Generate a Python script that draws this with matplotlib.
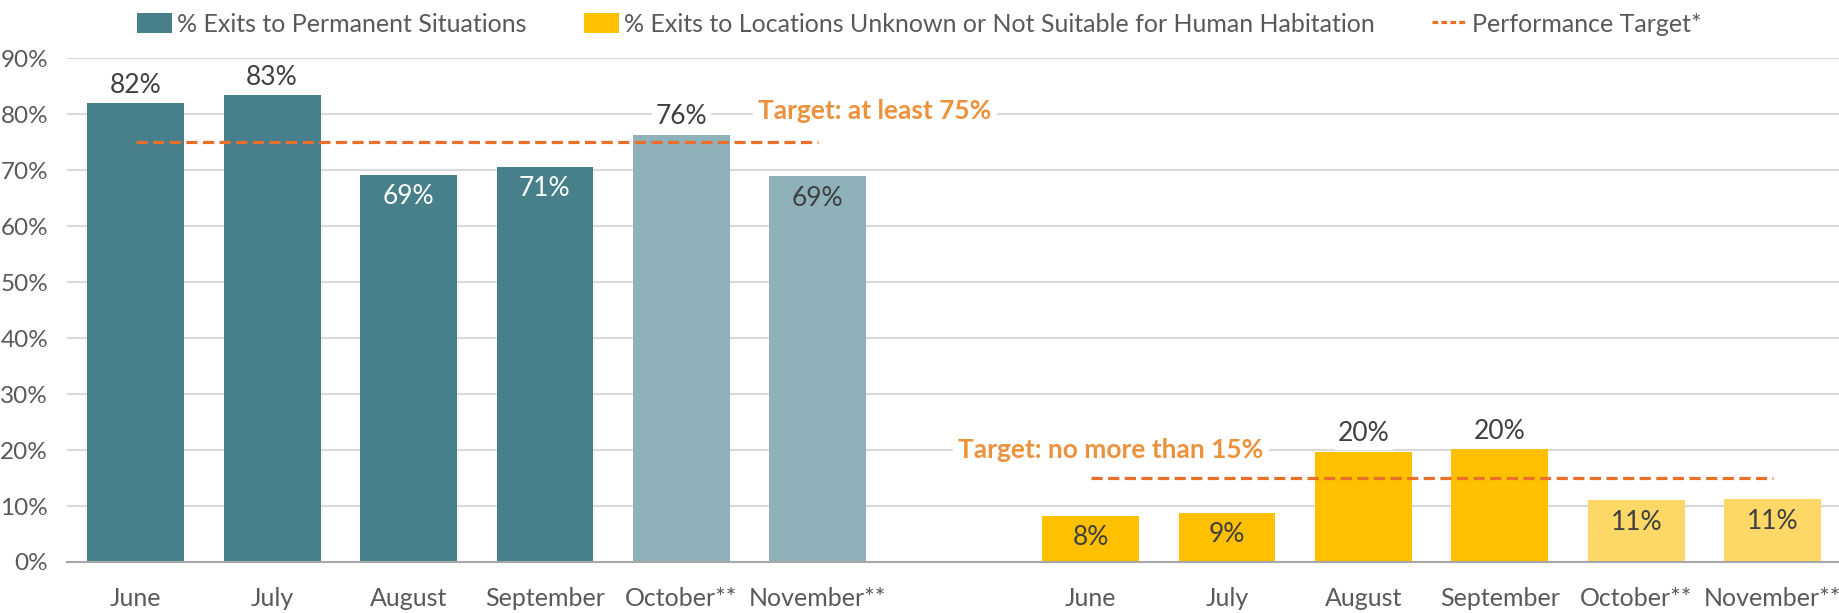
"""
Exits to permanent situations vs. exits to unknown locations - monthly bar chart
"""

import matplotlib
matplotlib.use('Agg')
import matplotlib.pyplot as plt
from matplotlib.patches import Patch
from matplotlib.lines import Line2D
import numpy as np

# ---- data -------------------------------------------------------------
months = ['June', 'July', 'August', 'September', 'October**', 'November**']
permanent_pct = [81.9, 83.4, 69.2, 70.6, 76.3, 68.9]
unknown_pct = [8.3, 8.8, 19.7, 20.1, 11.0, 11.2]
permanent_target = 75
unknown_target = 15
preliminary = [False, False, False, False, True, True]

# label placement: 'out' above the bar, 'in' inside near the top
permanent_label_pos = ['out', 'out', 'in', 'in', 'out', 'in']
unknown_label_pos = ['in', 'in', 'out', 'out', 'in', 'in']

# ---- style ------------------------------------------------------------
plt.rcParams['font.family'] = ['Lato', 'DejaVu Sans']
TEAL = '#477F8B'
TEAL_LIGHT = '#8FB2BA'
GOLD = '#FFC000'
GOLD_LIGHT = '#FDD866'
TARGET_LINE = '#E8702A'
TARGET_TEXT = '#EC913C'
GRID = '#D9D9D9'
TICK_TEXT = '#595959'
LABEL_TEXT = '#404040'
FS = 19

fig = plt.figure(figsize=(18.39, 6.13), dpi=100)
ax = fig.add_axes([0.0367, 0.0832, 0.9643, 0.822])

n = len(months)
x1 = np.arange(n)
x2 = np.arange(n) + n + 1
bar_w = 0.71

c1 = [TEAL_LIGHT if p else TEAL for p in preliminary]
c2 = [GOLD_LIGHT if p else GOLD for p in preliminary]
bars1 = ax.bar(x1, permanent_pct, bar_w, color=c1, zorder=2)
bars2 = ax.bar(x2, unknown_pct, bar_w, color=c2, zorder=2)


def label_bars(bars, values, positions, white_inside):
    for bar, v, pos, w in zip(bars, values, positions, white_inside):
        cx = bar.get_x() + bar.get_width() / 2
        if pos == 'out':
            ax.annotate(f'{v:.0f}%', (cx, v), xytext=(0, 13), textcoords='offset points',
                        ha='center', va='center', fontsize=FS, color=LABEL_TEXT, zorder=4,
                        bbox=dict(boxstyle='square,pad=0.15', fc='white', ec='none'))
        else:
            ax.annotate(f'{v:.0f}%', (cx, v), xytext=(0, -16), textcoords='offset points',
                        ha='center', va='center', fontsize=FS,
                        color='white' if w else LABEL_TEXT, zorder=4)


label_bars(bars1, permanent_pct, permanent_label_pos, [False, False, True, True, False, False])
label_bars(bars2, unknown_pct, unknown_label_pos, [False] * n)

# performance targets
ax.plot([x1[0], x1[-1]], [permanent_target] * 2, color=TARGET_LINE, lw=2.3,
        dashes=(3.5, 1.7), zorder=3)
ax.plot([x2[0], x2[-1]], [unknown_target] * 2, color=TARGET_LINE, lw=2.3,
        dashes=(3.5, 1.7), zorder=3)

ax.text(5.42, 80.6, f'Target: at least {permanent_target}%', ha='center', va='center',
        fontsize=FS, fontweight='bold', color=TARGET_TEXT, zorder=4,
        bbox=dict(boxstyle='square,pad=0.2', fc='white', ec='none'))
ax.text(7.15, 20.0, f'Target: no more than {unknown_target}%', ha='center', va='center',
        fontsize=FS, fontweight='bold', color=TARGET_TEXT, zorder=4,
        bbox=dict(boxstyle='square,pad=0.2', fc='white', ec='none'))

# axes
ax.set_xlim(-0.5, x2[-1] + 0.5)
ax.set_ylim(0, 90)
ax.set_yticks(np.arange(0, 91, 10))
ax.set_yticklabels([f'{t}%' for t in range(0, 91, 10)])
ax.set_xticks(np.concatenate([x1, x2]))
ax.set_xticklabels(months + months)
ax.tick_params(axis='both', length=0, colors=TICK_TEXT)
ax.tick_params(axis='x', labelsize=18, pad=18)
ax.tick_params(axis='y', labelsize=17.5, pad=14)
ax.grid(axis='y', color=GRID, lw=1.5, zorder=0)
ax.set_axisbelow(True)
for s in ['top', 'right', 'left']:
    ax.spines[s].set_visible(False)
ax.spines['bottom'].set_color('#A6A6A6')
ax.spines['bottom'].set_linewidth(1.5)
ax.spines['bottom'].set_zorder(3)

# legend
handles = [
    Patch(facecolor=TEAL, edgecolor='none'),
    Patch(facecolor=GOLD, edgecolor='none'),
    Line2D([0], [0], color=TARGET_LINE, lw=2.3, dashes=(1.8, 1.0)),
]
labels = ['% Exits to Permanent Situations',
          '% Exits to Locations Unknown or Not Suitable for Human Habitation',
          'Performance Target*']
fig.legend(handles, labels, loc='upper center', bbox_to_anchor=(0.5, 1.0),
           ncol=3, frameon=False, fontsize=18, labelcolor=TICK_TEXT,
           handlelength=1.4, handleheight=0.85, handletextpad=0.2, columnspacing=2.3,
           borderaxespad=0.1)

fig.savefig('out.png', dpi=100, facecolor='white')
